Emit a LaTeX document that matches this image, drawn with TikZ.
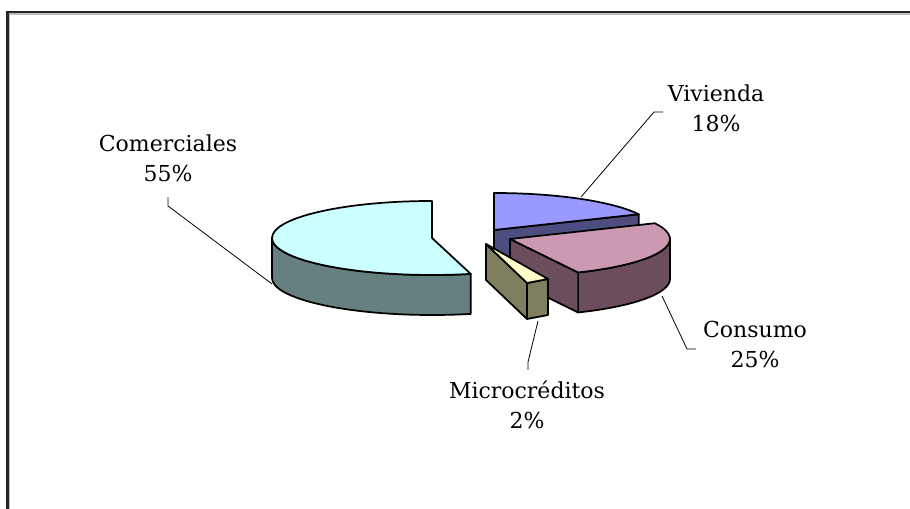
\documentclass[tikz,border=0pt]{standalone}
\usepackage{fontspec}
\setmainfont{DejaVu Serif}
\usetikzlibrary{calc}
\definecolor{comT}{HTML}{CCFFFF}
\definecolor{comS}{HTML}{668080}
\definecolor{vivT}{HTML}{9999FF}
\definecolor{vivS}{HTML}{4D4D80}
\definecolor{conT}{HTML}{CC99B3}
\definecolor{conS}{HTML}{6B4D5E}
\definecolor{micT}{HTML}{FFFFCC}
\definecolor{micS}{HTML}{7F7F5F}
\tikzset{
  pieface/.style={draw=black, line width=1.3pt, line join=round},
  leader/.style={draw=black, line width=0.6pt},
  lbl/.style={anchor=base, inner sep=0pt, font=\fontsize{16.5}{22.5}\selectfont},
  frameline/.style={draw=black!85, line width=1.6pt}
}
\def\rx{120pt}
\def\ry{27.75pt}
\begin{document}
\begin{tikzpicture}[x=0.75pt,y=0.75pt]
\useasboundingbox (0,0) rectangle (910,-509);
% frame
\draw[black!25, line width=0.8pt] (9,-509) -- (9,-14) -- (910,-14);
\draw[frameline] (7.5,-509) -- (7.5,-12) -- (910,-12);

% ---- Comerciales
\coordinate (Cc) at (432,-238);
\path[pieface, fill=comS] ($(Cc)+(180:160 and 37)$)
  arc[start angle=180, end angle=284, x radius=\rx, y radius=\ry]
  -- ++(0,-40)
  arc[start angle=284, end angle=180, x radius=\rx, y radius=\ry] -- cycle;
\path[pieface, fill=comT] (Cc) -- ++(0,37)
  arc[start angle=90, end angle=284, x radius=\rx, y radius=\ry] -- cycle;

% ---- Vivienda
\coordinate (Cv) at (494,-230);
\path[pieface, fill=vivS] (Cv) -- ($(Cv)+(25.2:160 and 37)$) -- ++(0,-40)
  -- ($(Cv)+(0,-40)$) -- cycle;
\path[pieface, fill=vivT] (Cv) -- ++(0,37)
  arc[start angle=90, end angle=25.2, x radius=\rx, y radius=\ry] -- cycle;

% ---- Consumo
\coordinate (Cn) at (510,-239);
\path[pieface, fill=conS] ($(Cn)+(0:160 and 37)$)
  arc[start angle=0, end angle=-64.8, x radius=\rx, y radius=\ry]
  -- ++(0,-40)
  arc[start angle=-64.8, end angle=0, x radius=\rx, y radius=\ry] -- cycle;
\path[pieface, fill=conS] (Cn) -- ($(Cn)+(-64.8:160 and 37)$) -- ++(0,-40)
  -- ($(Cn)+(0,-40)$) -- cycle;
\path[pieface, fill=conT] (Cn) -- ($(Cn)+(25.2:160 and 37)$)
  arc[start angle=25.2, end angle=-64.8, x radius=\rx, y radius=\ry] -- cycle;

% ---- Microcreditos
\coordinate (M) at (486,-244);
\coordinate (MA) at (527,-283);
\coordinate (MB) at (548,-279);
\path[pieface, fill=micS] (M) -- (MA) -- ($(MA)+(0,-36)$) -- ($(M)+(0,-36)$) -- cycle;
\path[pieface, fill=micS] (MA) -- (MB) -- ($(MB)+(0,-36)$) -- ($(MA)+(0,-36)$) -- cycle;
\path[pieface, fill=micT] (M) -- (MB) -- (MA) -- cycle;

% ---- labels
\node[lbl] (lcom) at (168,-152) {\begin{tabular}[t]{@{}c@{}}Comerciales\\55\%\end{tabular}};
\node[lbl] (lviv) at (716,-102) {\begin{tabular}[t]{@{}c@{}}Vivienda\\18\%\end{tabular}};
\node[lbl] (lcon) at (755,-338) {\begin{tabular}[t]{@{}c@{}}Consumo\\25\%\end{tabular}};
\node[lbl] (lmic) at (527,-398) {\begin{tabular}[t]{@{}c@{}}Microcréditos\\2\%\end{tabular}};

% ---- leaders
\coordinate (comA) at (168,-197);
\coordinate (comB) at (168,-206);
\coordinate (comP) at (272,-284);
\draw[leader] (comA) -- (comB) -- (comP);
\coordinate (vivA) at (663,-112);
\coordinate (vivB) at (654,-112);
\coordinate (vivP) at (581,-197);
\draw[leader] (vivA) -- (vivB) -- (vivP);
\coordinate (conP) at (662,-296);
\coordinate (conB) at (687,-349);
\coordinate (conA) at (696,-349);
\draw[leader] (conP) -- (conB) -- (conA);
\coordinate (micP) at (538,-321);
\coordinate (micB) at (528,-362);
\coordinate (micA) at (528,-370);
\draw[leader] (micP) -- (micB) -- (micA);
\end{tikzpicture}
\end{document}
